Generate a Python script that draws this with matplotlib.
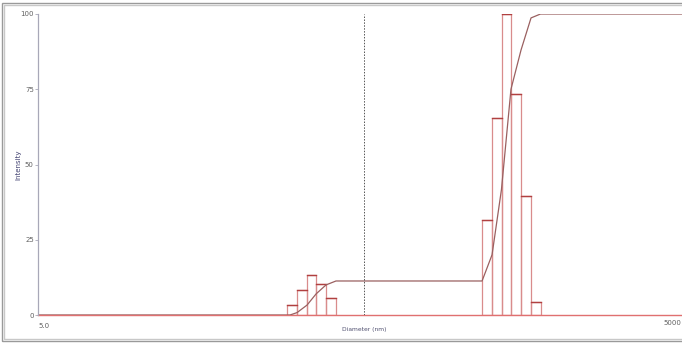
import matplotlib
matplotlib.use("Agg")
import matplotlib.pyplot as plt
from matplotlib.patches import Rectangle

# size distribution bins (left edge in nm) and intensity
bin_left = [71.7, 79.6, 88.3, 98.0, 108.8,
            577, 640, 711, 789, 875, 972]
bin_factor = 1.1099  # ratio right/left edge of one bin
intensity = [3.3, 8.3, 13.3, 10.3, 5.7,
             31.7, 65.3, 100, 73.3, 39.7, 4.3]

# cumulative curve
cum_d = [5, 74.0, 79.8, 88.8, 97.8, 108.8, 121, 577, 642, 710, 786, 875, 974, 1078, 5000]
cum_v = [0, 0, 0.8, 3.3, 7.0, 10.0, 11.3, 11.3, 20.0, 41.7, 75.0, 88.0, 98.7, 100, 100]

marker_d = 163  # dotted vertical marker
yticks = [0, 25, 50, 75, 100]

W, H = 682, 343
fig = plt.figure(figsize=(W / 100, H / 100), dpi=100)
fig.patch.set_facecolor("white")

# outer double frame
for off, col in [(2, "#9a9a9a"), (4, "#c8c8c8")]:
    fig.patches.append(Rectangle((off / W, off / H), (W + 20) / W, (H - 2 * off - 1) / H,
                                 transform=fig.transFigure, fill=False,
                                 edgecolor=col, linewidth=1.0))

ax = fig.add_axes([38 / W, 28 / H, 646 / W, 301 / H])
ax.set_xscale("log")
ax.set_xlim(5, 5000)
ax.set_ylim(0, 100)
ax.patch.set_alpha(0)

bar_col = "#d98c8c"
for d, v in zip(bin_left, intensity):
    ax.bar(d, v, width=d * (bin_factor - 1), align="edge", fill=False,
           edgecolor=bar_col, linewidth=0.9)
    ax.plot([d, d * bin_factor], [v, v], color="#b04040", linewidth=1.0)

ax.axhline(0, color="#e07070", linewidth=1.0, clip_on=False)
ax.plot(cum_d, cum_v, color="#9a6060", linewidth=0.9)
ax.axvline(marker_d, color="#555555", linewidth=0.7, linestyle=(0, (1.5, 1.5)))

for s in ["top", "right", "bottom"]:
    ax.spines[s].set_visible(False)
ax.spines["left"].set_color("#a8a8b8")
ax.spines["left"].set_linewidth(0.9)

ax.set_yticks(yticks)
ax.set_yticklabels([str(t) for t in yticks], fontsize=5, color="#606060")
ax.tick_params(axis="y", length=2, width=0.6, color="#a8a8b8", pad=1)
ax.set_xticks([])
ax.xaxis.set_minor_locator(matplotlib.ticker.NullLocator())

ax.text(5, -2.5, "5.0", fontsize=5, color="#606060", ha="left", va="top")
fig.text(681 / W, 1 - 320 / H, "5000", fontsize=5, color="#606060", ha="right", va="top")
ax.text(marker_d, -4, "Diameter (nm)", fontsize=4.3, color="#505070", ha="center", va="top")
fig.text(18 / W, 1 - 165 / H, "Intensity", fontsize=5, color="#404070",
         rotation=90, ha="center", va="center")

fig.savefig("out.png", dpi=100)
